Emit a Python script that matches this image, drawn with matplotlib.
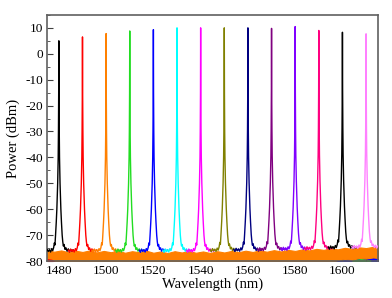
import numpy as np
import matplotlib
matplotlib.use('Agg')
import matplotlib.pyplot as plt
from matplotlib.ticker import MultipleLocator

plt.rcParams['font.family'] = ['Liberation Serif', 'DejaVu Serif']
plt.rcParams['axes.unicode_minus'] = False

# laser lines: centre wavelength (nm), peak power (dBm), colour
centers = [1480, 1490, 1500, 1510, 1520, 1530, 1540, 1550, 1560, 1570, 1580, 1590, 1600, 1610]
peaks = [5.0, 6.5, 7.8, 8.8, 9.3, 10.0, 10.0, 10.0, 10.0, 9.8, 10.5, 9.0, 8.3, 7.7]
floor_shift = [0.0, 0.0, 0.0, 0.0, 0.0, 0.0, 0.0, 0.2, 0.3, 0.5, 0.7, 0.9, 1.2, 1.4]
colors = ['#000000', '#ff0000', '#ff8000', '#22dd22', '#0000ff', '#00ffff', '#ff00ff',
          '#808000', '#000080', '#800080', '#8000ff', '#ff0080', '#000000', '#ff80ff']

# line shape: offset from centre (nm) and level (dBm);
# the centre point is the peak itself
shape_off = [-6, -5.5, -5, -4.5, -4, -3.5, -3, -2.6, -2.2, -1.9, -1.65, -1.4, -1.1, -0.85,
             -0.5, -0.28, -0.17, -0.07, 0,
             0.07, 0.17, 0.28, 0.5, 0.85, 1.1, 1.4, 1.65, 1.9, 2.2, 2.6, 3, 3.5, 4, 4.5,
             5, 5.5, 6]
shape_lev = [-75.8, -76.6, -75.4, -76.3, -75.6, -76.5, -75.2, -76.0, -74.8, -73.0, -73.8, -70.0, -65, -60,
             -50, -40, -30, -15, None,
             -15, -30, -40, -50, -60, -65, -70.0, -72.5, -74.2, -73.6, -75.5, -74.9, -76.2, -75.3, -76.4,
             -75.5, -76.2, -75.7]

# dense orange noise floor at the bottom
band_wl = list(range(1475, 1618, 3))
band_top = [-75.8, -76.4, -75.9, -76.6, -76.0, -76.5, -75.9, -76.7, -76.1, -76.6,
            -76.0, -76.8, -76.2, -76.6, -76.0, -76.8, -76.3, -76.9, -76.2, -76.7,
            -76.1, -76.8, -76.3, -76.9, -76.2, -76.7, -76.1, -76.6, -76.0, -76.5,
            -75.9, -76.4, -75.8, -76.3, -75.7, -76.1, -75.5, -75.9, -75.3, -75.7,
            -75.1, -75.5, -74.9, -75.3, -74.7, -75.0, -74.5, -74.8]
band_low = [-80.5] * 41 + [-79.6, -79.2, -79.5, -78.8, -79.0, -78.6, -78.9]

fig = plt.figure(figsize=(3.92, 2.98), dpi=100)
ax = fig.add_axes([0.12, 0.124, 0.844, 0.826])

# blue/green noise showing under the orange at the long-wavelength end
ax.fill_between([1596, 1605, 1616], [-80.5] * 3, [-78.4, -78.2, -77.9], color='#0000ff', lw=0, zorder=1)
ax.fill_between([1604, 1608, 1612], [-80.5] * 3, [-79.4, -79.0, -79.6], color='#22dd22', lw=0, zorder=1.1)
ax.fill_between(band_wl, band_low, band_top, color='#ff8000', lw=0.8, edgecolor='#ff8000', zorder=2)
ax.fill_between([1475, 1477, 1479], [-80.5] * 3, [-79.0, -79.3, -80.5], color='#ff0000', lw=0, zorder=2.1)

for c, p, s, col in zip(centers, peaks, floor_shift, colors):
    x = [c + o for o in shape_off]
    y = [p if v is None else v + s for v in shape_lev]
    ax.plot(x, y, color=col, lw=1.0, zorder=3)

ax.set_xlim(1475, 1615)
ax.set_ylim(-80, 15)
ax.xaxis.set_major_locator(MultipleLocator(20))
ax.xaxis.set_minor_locator(MultipleLocator(10))
ax.yaxis.set_major_locator(MultipleLocator(10))
ax.yaxis.set_minor_locator(MultipleLocator(5))
ax.yaxis.set_major_formatter(plt.FuncFormatter(lambda v, pos: '{:d}'.format(int(round(v))) if v <= 10 else ''))
ax.tick_params(which='both', direction='in', labelsize=9.5, pad=3, color='#404040')
ax.tick_params(which='major', length=4)
ax.tick_params(which='minor', length=2)

for sp in ax.spines.values():
    sp.set_color('#606060')
    sp.set_linewidth(1.2)

ax.set_xlabel('Wavelength (nm)', fontsize=10.5, labelpad=0)
ax.set_ylabel('Power (dBm)', fontsize=10.5, labelpad=4)

fig.savefig('out.png', dpi=100)
